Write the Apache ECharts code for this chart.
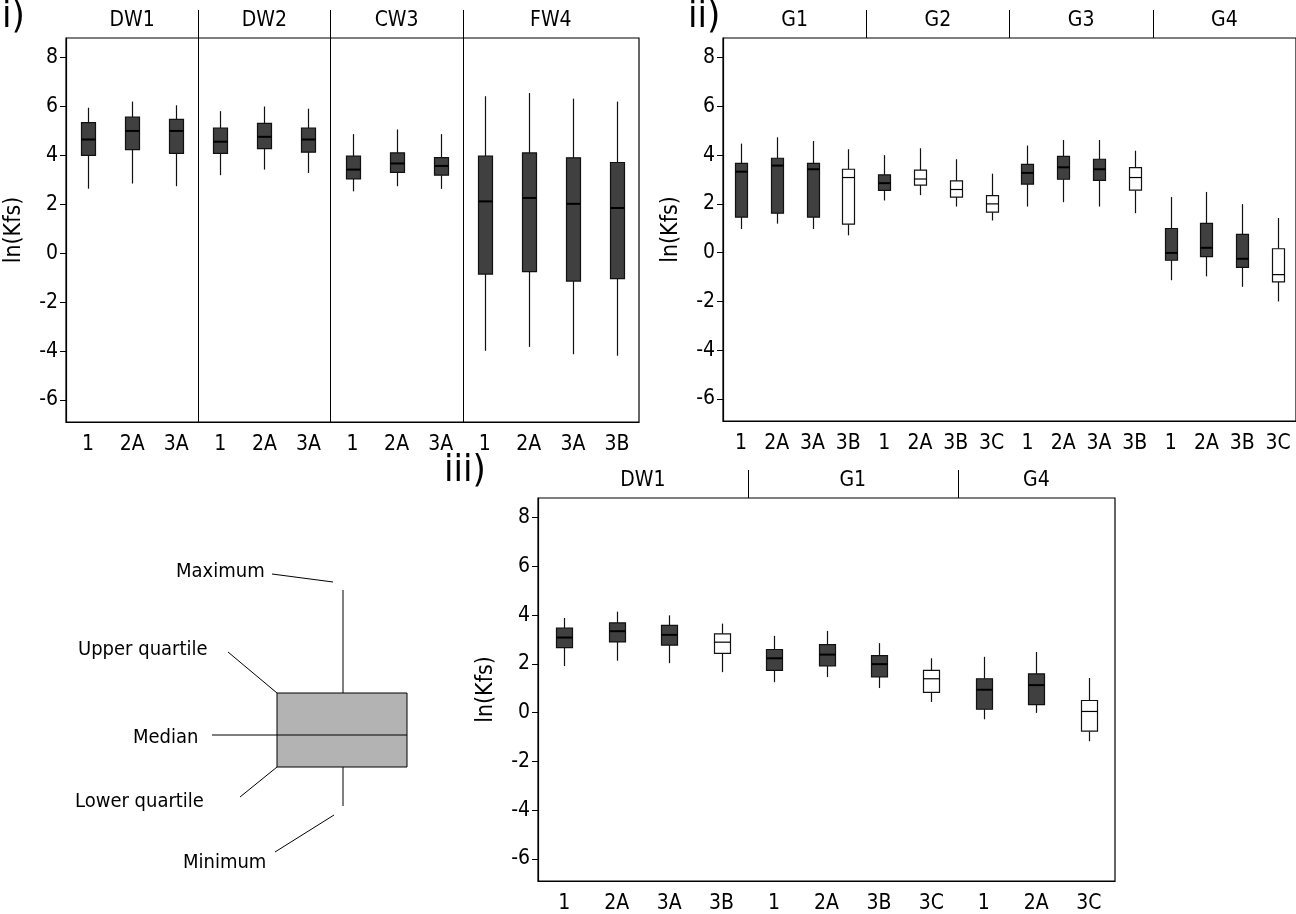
<!DOCTYPE html>
<html><head><meta charset="utf-8">
<script src="https://cdn.jsdelivr.net/npm/echarts@6.0.0/dist/echarts.min.js"></script>
<style>html,body{margin:0;background:#fff}#chart-container{width:1296px;height:914px}</style>
</head><body><div id="chart-container"></div>
<script>
// Panel i
const groupsA = ["DW1", "DW2", "CW3", "FW4"];
const catsA = ["1","2A","3A","1","2A","3A","1","2A","3A","1","2A","3A","3B"];
const groupSizesA = [3, 3, 3, 4];
const boxesA = [
  [2.64, 4.0, 4.65, 5.34, 5.95], [2.85, 4.24, 5.0, 5.57, 6.2], [2.74, 4.08, 5.0, 5.47, 6.05],
  [3.19, 4.08, 4.56, 5.12, 5.81], [3.42, 4.28, 4.76, 5.31, 6.0], [3.28, 4.13, 4.65, 5.12, 5.91],
  [2.53, 3.04, 3.42, 3.97, 4.87], [2.74, 3.31, 3.67, 4.1, 5.06], [2.63, 3.19, 3.57, 3.91, 4.87],
  [-3.99, -0.85, 2.12, 3.97, 6.42], [-3.83, -0.75, 2.26, 4.1, 6.55], [-4.13, -1.14, 2.02, 3.9, 6.32], [-4.19, -1.04, 1.85, 3.71, 6.2]
];
const whiteA = [0,0,0,0,0,0,0,0,0,0,0,0,0];

// Panel ii
const groupsB = ["G1", "G2", "G3", "G4"];
const catsB = ["1","2A","3A","3B","1","2A","3B","3C","1","2A","3A","3B","1","2A","3B","3C"];
const groupSizesB = [4, 4, 4, 4];
const boxesB = [
  [0.97, 1.46, 3.32, 3.66, 4.47], [1.19, 1.62, 3.57, 3.87, 4.73], [0.97, 1.46, 3.42, 3.66, 4.58], [0.71, 1.17, 3.08, 3.42, 4.24],
  [2.14, 2.55, 2.85, 3.19, 4.0], [2.36, 2.77, 3.02, 3.38, 4.28], [1.89, 2.28, 2.59, 2.94, 3.83], [1.32, 1.66, 2.0, 2.34, 3.24],
  [1.89, 2.81, 3.27, 3.62, 4.39], [2.07, 3.01, 3.5, 3.95, 4.62], [1.89, 2.96, 3.42, 3.83, 4.62], [1.62, 2.56, 3.08, 3.49, 4.18],
  [-1.13, -0.31, -0.01, 0.99, 2.28], [-0.97, -0.16, 0.2, 1.2, 2.49], [-1.4, -0.6, -0.25, 0.75, 1.99], [-2.0, -1.2, -0.9, 0.16, 1.42]
];
const whiteB = [0,0,0,1,0,1,1,1,0,0,0,1,0,0,0,1];

// Panel iii
const groupsC = ["DW1", "G1", "G4"];
const catsC = ["1","2A","3A","3B","1","2A","3B","3C","1","2A","3C"];
const groupSizesC = [4, 4, 3];
const boxesC = [
  [1.91, 2.67, 3.08, 3.47, 3.88], [2.13, 2.9, 3.34, 3.68, 4.14], [2.03, 2.77, 3.19, 3.58, 3.99], [1.66, 2.43, 2.89, 3.23, 3.65],
  [1.25, 1.73, 2.23, 2.59, 3.15], [1.46, 1.92, 2.38, 2.79, 3.35], [1.01, 1.47, 1.99, 2.34, 2.85], [0.44, 0.83, 1.39, 1.73, 2.23],
  [-0.27, 0.14, 0.94, 1.39, 2.29], [-0.01, 0.33, 1.13, 1.59, 2.49], [-1.17, -0.76, 0.05, 0.5, 1.42]
];
const whiteC = [0,0,0,1,0,0,0,1,0,0,1];

const yTicks = [-6, -4, -2, 0, 2, 4, 6, 8];

const FONT = "'DejaVu Sans Condensed', 'DejaVu Sans'";
const panels = [
  { cats: catsA, boxes: boxesA, white: whiteA, groups: groupsA, sizes: groupSizesA, grid: { left: 66, top: 38, width: 573, height: 384 }, bw: 14, fullSep: true, label: "i)", lx: 2 },
  { cats: catsB, boxes: boxesB, white: whiteB, groups: groupsB, sizes: groupSizesB, grid: { left: 723, top: 38, width: 575, height: 383 }, bw: 12, fullSep: false, label: "ii)", lx: 688 },
  { cats: catsC, boxes: boxesC, white: whiteC, groups: groupsC, sizes: groupSizesC, grid: { left: 538, top: 498, width: 577, height: 383 }, bw: 16, fullSep: false, label: "iii)", lx: 444 }
];

const dom = document.getElementById("chart-container");
const myChart = echarts.init(dom, null, { renderer: "canvas" });

// box and whisker without end caps
function renderBox(p) {
  return function (params, api) {
    const x = api.value(0);
    const lo = api.coord([x, api.value(1)]);
    const q1 = api.coord([x, api.value(2)]);
    const md = api.coord([x, api.value(3)]);
    const q3 = api.coord([x, api.value(4)]);
    const hi = api.coord([x, api.value(5)]);
    const cx = Math.round(lo[0]) + 0.5;
    const h = p.bw / 2;
    const white = p.white[params.dataIndex];
    const stroke = { stroke: "#111", lineWidth: 1.2 };
    return {
      type: "group",
      children: [
        { type: "line", shape: { x1: cx, y1: hi[1], x2: cx, y2: q3[1] }, style: stroke },
        { type: "line", shape: { x1: cx, y1: q1[1], x2: cx, y2: lo[1] }, style: stroke },
        { type: "rect", shape: { x: cx - h, y: q3[1], width: p.bw, height: q1[1] - q3[1] }, style: { fill: white ? "#fff" : "#404040", stroke: "#111", lineWidth: 1.2 } },
        { type: "line", shape: { x1: cx - h, y1: md[1], x2: cx + h, y2: md[1] }, style: { stroke: "#000", lineWidth: white ? 1.2 : 2 } }
      ]
    };
  };
}

const option = {
  animation: false,
  backgroundColor: "#fff",
  grid: panels.map(p => Object.assign({ show: true, borderColor: "#000", borderWidth: 1.2, containLabel: false }, p.grid)),
  xAxis: panels.map((p, i) => ({
    type: "category", gridIndex: i,
    data: p.cats.map((c, k) => k + "|" + c),
    axisLine: { onZero: false, lineStyle: { color: "#000", width: 1.2 } },
    axisTick: { alignWithLabel: true, length: 6, lineStyle: { color: "#000" } },
    axisLabel: { formatter: v => v.split("|")[1], color: "#000", fontFamily: FONT, fontSize: 21, margin: 12, interval: 0 },
    splitLine: { show: false }
  })),
  yAxis: panels.map((p, i) => ({
    type: "value", gridIndex: i, min: -6.9, max: 8.8,
    name: "ln(Kfs)", nameLocation: "middle", nameGap: 40, nameRotate: 90,
    nameTextStyle: { color: "#000", fontFamily: FONT, fontSize: 23 },
    axisLine: { show: true, lineStyle: { color: "#000", width: 1.2 } },
    axisTick: { show: true, length: 6, customValues: yTicks, lineStyle: { color: "#000" } },
    axisLabel: { customValues: yTicks, color: "#000", fontFamily: FONT, fontSize: 21, margin: 8 },
    splitLine: { show: false }
  })),
  series: panels.map((p, i) => ({
    type: "custom", xAxisIndex: i, yAxisIndex: i,
    renderItem: renderBox(p),
    encode: { x: 0, y: [1, 2, 3, 4, 5] },
    data: p.boxes.map((b, k) => [k].concat(b))
  }))
};
myChart.setOption(option);

// group separators, group names, panel labels, schematic
const g = [];
panels.forEach((p, i) => {
  const top = p.grid.top;
  const bottom = p.grid.top + p.grid.height;
  const step = p.grid.width / p.cats.length;
  let start = 0;
  p.sizes.forEach((n, k) => {
    const x0 = myChart.convertToPixel({ xAxisIndex: i }, start);
    const x1 = myChart.convertToPixel({ xAxisIndex: i }, start + n - 1);
    g.push({ type: "text", style: { text: p.groups[k], x: (x0 + x1) / 2, y: top - 17, align: "center", verticalAlign: "middle", font: "21px " + FONT, fill: "#000" } });
    if (k > 0) {
      const xs = Math.round(x0 - step / 2) + 0.5;
      g.push({ type: "line", shape: { x1: xs, y1: top - 28, x2: xs, y2: p.fullSep ? bottom : top }, style: { stroke: "#000", lineWidth: 1 } });
    }
    start += n;
  });
  g.push({ type: "text", style: { text: p.label, x: p.lx, y: top - 40 + (i === 2 ? -6 : 0), font: "38px " + FONT, fill: "#000" } });
});

// schematic legend
const ln = (x1, y1, x2, y2) => ({ type: "line", shape: { x1, y1, x2, y2 }, style: { stroke: "#000", lineWidth: 1 } });
const tx = (text, x, y) => ({ type: "text", style: { text, x, y, font: "20px " + FONT, fill: "#000", verticalAlign: "middle" } });
g.push(
  { type: "rect", shape: { x: 277, y: 693, width: 130, height: 74 }, style: { fill: "#b3b3b3", stroke: "#000", lineWidth: 1 } },
  ln(343, 590, 343, 693), ln(343, 767, 343, 806), ln(212, 735, 407, 735),
  ln(272, 574, 333, 582), ln(228, 652, 277, 693), ln(240, 797, 277, 767), ln(275, 852, 334, 815),
  tx("Maximum", 176, 572), tx("Upper quartile", 78, 650), tx("Median", 133, 738), tx("Lower quartile", 75, 802), tx("Minimum", 183, 863)
);
myChart.setOption({ graphic: g });
</script></body></html>
